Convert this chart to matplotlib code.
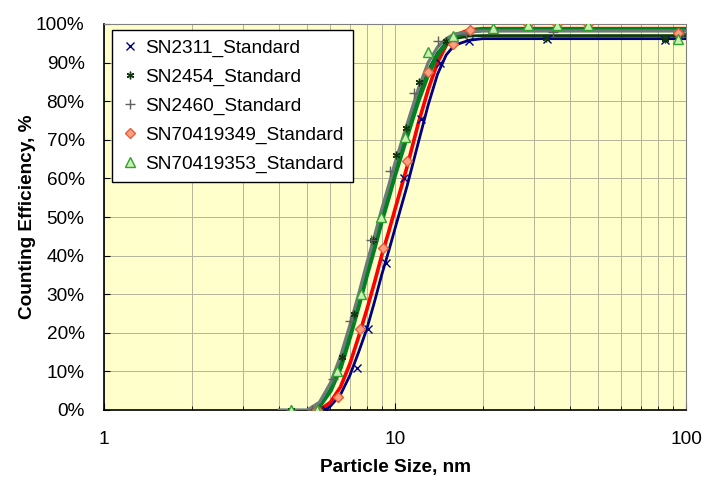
import numpy as np
import matplotlib
matplotlib.use("Agg")
import matplotlib.pyplot as plt
from matplotlib.ticker import FixedLocator, FuncFormatter, NullFormatter

plt.rcParams['font.family'] = ['Liberation Sans', 'DejaVu Sans']

names = ["SN2311_Standard", "SN2454_Standard", "SN2460_Standard",
         "SN70419349_Standard", "SN70419353_Standard"]

# measured points (size nm, efficiency fraction)
sn2311_x = [5.8, 7.4, 8.1, 9.3, 10.7, 12.3, 14.3, 18.0, 33.3, 84.7]
sn2311_y = [0.0, 0.11, 0.21, 0.38, 0.60, 0.755, 0.90, 0.955, 0.962, 0.958]
sn2454_x = [4.4, 5.5, 6.58, 7.22, 8.4, 10.1, 10.9, 12.1, 15.0, 33.0, 85.0]
sn2454_y = [0.0, 0.0, 0.137, 0.25, 0.44, 0.66, 0.73, 0.85, 0.955, 0.965, 0.962]
sn2460_x = [4.4, 5.2, 6.1, 7.0, 8.3, 9.6, 11.6, 14.0, 17.5, 35.0, 98.0]
sn2460_y = [0.0, 0.0, 0.08, 0.23, 0.44, 0.62, 0.82, 0.956, 0.975, 0.978, 0.976]
sn349_x = [5.4, 6.36, 7.58, 9.1, 11.0, 13.0, 15.8, 18.1, 28.6, 36.0, 46.0, 93.9]
sn349_y = [0.0, 0.034, 0.21, 0.42, 0.645, 0.876, 0.948, 0.984, 1.0, 1.0, 1.0, 0.977]
sn353_x = [4.4, 5.4, 6.3, 7.64, 8.95, 10.8, 13.0, 15.8, 21.7, 28.6, 36.0, 46.0, 93.9]
sn353_y = [0.0, 0.0, 0.10, 0.30, 0.50, 0.707, 0.927, 0.97, 0.99, 0.997, 0.997, 0.997, 0.96]

# fitted curves
fit2311_x = [5.7, 6.0, 6.5, 7.0, 7.5, 8.0, 8.5, 9.0, 9.5, 10, 11, 12, 13, 14, 15, 16, 18, 20, 30, 100]
fit2311_y = [0.0, 0.01, 0.04, 0.09, 0.15, 0.21, 0.28, 0.35, 0.41, 0.47, 0.58, 0.69, 0.79, 0.87, 0.92, 0.945, 0.958, 0.962, 0.962, 0.962]
fit2454_x = [5.2, 5.5, 6.0, 6.5, 7.0, 7.5, 8.0, 8.5, 9.0, 9.5, 10, 11, 12, 13, 14, 15, 16, 18, 20, 30, 100]
fit2454_y = [0.0, 0.01, 0.05, 0.12, 0.20, 0.28, 0.36, 0.43, 0.50, 0.56, 0.62, 0.72, 0.81, 0.88, 0.925, 0.95, 0.962, 0.969, 0.97, 0.97, 0.97]
fit2460_x = [4.0, 5.0, 5.5, 6.0, 6.5, 7.0, 7.5, 8.0, 8.5, 9.0, 9.5, 10, 11, 12, 13, 14, 15, 16, 18, 20, 30, 100]
fit2460_y = [0.0, 0.0, 0.02, 0.07, 0.14, 0.22, 0.30, 0.38, 0.45, 0.52, 0.58, 0.64, 0.74, 0.83, 0.90, 0.94, 0.962, 0.974, 0.98, 0.982, 0.982, 0.982]
fit349_x = [5.5, 6.0, 6.5, 7.0, 7.5, 8.0, 8.5, 9.0, 9.5, 10, 11, 12, 13, 14, 15, 16, 18, 20, 30, 100]
fit349_y = [0.0, 0.02, 0.06, 0.12, 0.19, 0.26, 0.33, 0.40, 0.46, 0.52, 0.63, 0.74, 0.83, 0.90, 0.945, 0.97, 0.985, 0.988, 0.988, 0.988]
fit353_x = [5.3, 5.5, 6.0, 6.5, 7.0, 7.5, 8.0, 8.5, 9.0, 9.5, 10, 11, 12, 13, 14, 15, 16, 18, 20, 30, 100]
fit353_y = [0.0, 0.01, 0.05, 0.11, 0.19, 0.27, 0.35, 0.42, 0.49, 0.55, 0.61, 0.71, 0.80, 0.87, 0.92, 0.95, 0.968, 0.98, 0.985, 0.985, 0.985]

fig = plt.figure(figsize=(7.12, 4.88), dpi=100)
ax = fig.add_axes([104/712, 1-410/488, 582/712, 386/488])
ax.set_facecolor('#FFFFCC')

# fitted lines
ax.plot(fit2311_x, fit2311_y, color='#000080', lw=2.0, zorder=3)
ax.plot(fit349_x, fit349_y, color='#FF0000', lw=2.6, zorder=3)
ax.plot(fit2454_x, fit2454_y, color='#103810', lw=2.0, zorder=3)
ax.plot(fit353_x, fit353_y, color='#008020', lw=3.3, zorder=3)
ax.plot(fit2460_x, fit2460_y, color='#6E7B7B', lw=2.3, zorder=3)

# data markers
ax.plot(sn2311_x, sn2311_y, ls='none', marker='x', ms=5.5, mew=1, color='#000080', label=names[0], zorder=4)
ax.plot(sn2454_x, sn2454_y, ls='none', marker=(6, 2, 0), ms=5.5, mew=1, color='#103810', label=names[1], zorder=4)
ax.plot(sn2460_x, sn2460_y, ls='none', marker='+', ms=6.5, mew=1, color='#606060', label=names[2], zorder=4)
ax.plot(sn349_x, sn349_y, ls='none', marker='D', ms=5, mew=1, mfc='#FF9F80', mec='#E06040', label=names[3], zorder=4)
ax.plot(sn353_x, sn353_y, ls='none', marker='^', ms=6.5, mew=1, mfc='#C8F0B0', mec='#30A030', label=names[4], zorder=4)

ax.set_xscale('log')
ax.set_xlim(1, 100)
ax.set_ylim(0, 1.0)

ax.xaxis.set_major_locator(FixedLocator([1, 10, 100]))
ax.xaxis.set_minor_locator(FixedLocator([m * d for d in (1, 10) for m in range(2, 10)]))
ax.xaxis.set_major_formatter(FuncFormatter(lambda v, p: f"{v:g}"))
ax.xaxis.set_minor_formatter(NullFormatter())
ax.set_yticks(np.arange(0, 1.01, 0.1))
ax.yaxis.set_major_formatter(FuncFormatter(lambda v, p: f"{v*100:.0f}%"))

ax.grid(True, which='both', axis='x', color='#B4B49A', lw=0.7)
ax.grid(True, which='major', axis='y', color='#B4B49A', lw=0.7)
ax.set_axisbelow(True)

ax.tick_params(axis='both', which='both', direction='in', labelsize=13.7)
ax.tick_params(axis='x', which='major', length=5, pad=15)
ax.tick_params(axis='x', which='minor', length=3)
ax.tick_params(axis='y', length=4, pad=14)

for s in ('top', 'right'):
    ax.spines[s].set_color('#808080')
for s in ('bottom', 'left'):
    ax.spines[s].set_color('black')
    ax.spines[s].set_linewidth(1.2)

ax.set_xlabel('Particle Size, nm', fontsize=13.7, fontweight='bold', labelpad=8)
ax.set_ylabel('Counting Efficiency, %', fontsize=13.7, fontweight='bold', labelpad=0)

leg = ax.legend(loc='upper left', bbox_to_anchor=(112/712, 1-30/488), bbox_transform=fig.transFigure,
                fontsize=13.7, frameon=True, fancybox=False, handlelength=0.9, handletextpad=0.35,
                labelspacing=0.6, borderpad=0.5, borderaxespad=0)
leg.get_frame().set_edgecolor('black')
leg.get_frame().set_linewidth(1.0)
leg.get_frame().set_facecolor('white')
leg.get_frame().set_alpha(1)

fig.savefig('out.png', dpi=100)
